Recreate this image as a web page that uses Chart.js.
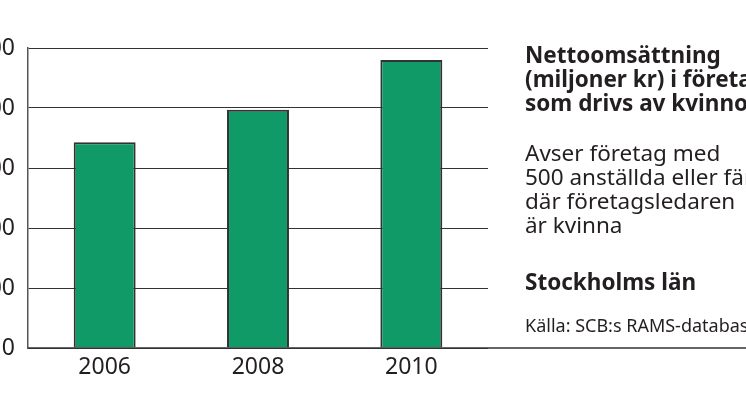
<!DOCTYPE html>
<html>
<head>
<meta charset="utf-8">
<script src="https://cdn.jsdelivr.net/npm/chart.js@4.4.1/dist/chart.umd.min.js"></script>
<style>
  html, body { margin: 0; padding: 0; width: 746px; height: 419px; overflow: hidden; background: #fff; }
  #wrap { position: absolute; left: -40px; top: 0; width: 786px; height: 419px; }
  .txt { position: absolute; left: 525px; color: #231f20; font-family: "Noto Sans", sans-serif; white-space: nowrap; }
  .title { top: 43px; font-weight: bold; font-size: 22.5px; line-height: 24px; }
  .sub { top: 141px; font-size: 22.5px; line-height: 24px; }
  .region { top: 270px; font-weight: bold; font-size: 22.5px; line-height: 24px; }
  .source { top: 315px; font-size: 18px; line-height: 20px; }
</style>
</head>
<body>
<div id="wrap"><canvas id="c"></canvas></div>
<div class="txt title">Nettoomsättning<br>(miljoner kr) i företag<br>som drivs av kvinnor</div>
<div class="txt sub">Avser företag med<br>500 anställda eller färre<br>där företagsledaren<br>är kvinna</div>
<div class="txt region">Stockholms län</div>
<div class="txt source">Källa: SCB:s RAMS-databas</div>
<script>
const years = ["2006", "2008", "2010"];
const turnover = [343, 397, 480];
const yTicks = [0, 100, 200, 300, 400, 500];

const baseLine = {
  id: 'baseLine',
  afterDraw(chart) {
    const ctx = chart.ctx;
    const y = chart.scales.y.getPixelForValue(0);
    ctx.save();
    ctx.strokeStyle = '#333';
    ctx.lineWidth = 1.5;
    ctx.beginPath();
    ctx.moveTo(chart.chartArea.left, y);
    ctx.lineTo(chart.width, y);
    ctx.stroke();
    ctx.restore();
  }
};

new Chart(document.getElementById('c'), {
  type: 'bar',
  data: {
    labels: years,
    datasets: [{
      data: turnover,
      backgroundColor: '#109a68',
      borderColor: '#333333',
      borderWidth: 2,
      barPercentage: 0.404,
      categoryPercentage: 1.0
    }]
  },
  options: {
    responsive: true,
    maintainAspectRatio: false,
    animation: false,
    layout: { padding: { top: 48, right: 258, bottom: 0, left: 0 } },
    plugins: { legend: { display: false }, tooltip: { enabled: false }, title: { display: false } },
    scales: {
      x: {
        grid: { display: false, drawTicks: false },
        border: { display: false },
        ticks: { color: '#231f20', font: { family: 'Noto Sans', size: 23 }, padding: 6, maxRotation: 0 },
        afterFit(s) { s.height = 71; }
      },
      y: {
        min: 0, max: 500,
        afterBuildTicks(s) { s.ticks = yTicks.map(v => ({ value: v })); },
        grid: { color: '#333333', lineWidth: 1, drawTicks: false },
        border: { display: true, color: '#555555', width: 1.5 },
        ticks: { color: '#231f20', font: { family: 'Noto Sans', size: 23 }, padding: 13 },
        afterFit(s) { s.width = 68; }
      }
    }
  },
  plugins: [baseLine]
});
</script>
</body>
</html>
